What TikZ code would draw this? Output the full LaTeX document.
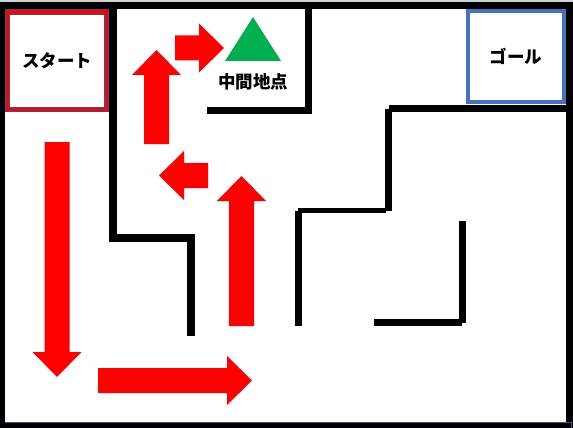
\documentclass[tikz,border=0pt]{standalone}
\usepackage{fontspec}
\newfontfamily\jpfont{Noto Sans CJK JP}
\usetikzlibrary{positioning}
\definecolor{goalblue}{HTML}{4472C4}
\definecolor{startedge}{HTML}{2F5597}
\definecolor{midgreen}{HTML}{00B050}

\begin{document}
\begin{tikzpicture}[x=1pt, y=-1pt,
        wall/.style={line width=7pt, line cap=butt},
        routearrow/.style={fill=red},
        boxlabel/.style={font=\jpfont\bfseries\fontsize{17.5pt}{20pt}\selectfont, inner sep=0pt}]
    \useasboundingbox (0, 0) rectangle (573, 428);
    \fill[white] (0, 0) rectangle (573, 428);
    \fill[gray!35] (0, 0) rectangle (573, 2);

    % outer frame
    \draw[wall] (1.5, 5.5) rectangle (569, 425.5);
    \draw[startedge, line width=1pt] (5, 422.5) -- (571.5, 422.5) -- (571.5, 428);

    % inner walls
    \draw[wall, line width=8pt] (113, 9) -- (113, 238) -- (191, 238) -- (191, 336);
    \draw[wall] (308.5, 9) -- (308.5, 110.5) -- (207, 110.5);
    \draw[wall] (389, 108) -- (569, 108);
    \draw[wall] (388.5, 108.5) -- (388.5, 211);
    \draw[wall, line width=5.5pt] (298, 210.5) -- (386, 210.5);
    \draw[wall] (298.5, 211) -- (298.5, 326);
    \draw[wall] (462, 221) -- (462, 323);
    \draw[wall] (374, 322.5) -- (462, 322.5);

    % start and goal
    \node[boxlabel, draw=startedge, line width=1pt, double=red, double distance=3.5pt,
        minimum width=99pt, minimum height=97.5pt] (start) at (57, 60.75) {スタート};
    \node[boxlabel, draw=goalblue, line width=4pt,
        minimum width=96pt, minimum height=91pt] (goal) at (516, 56.5) {ゴール};

    % midpoint
    \fill[midgreen] (253, 17) -- (281, 61) -- (225, 61) -- cycle;
    \node[boxlabel] (midpoint) at (253, 82) {中間地点};

    % route
    \foreach \x/\y/\a/\l in {57/142/-90/235, 98/380.5/0/154, 241.5/326/90/150,
            208/175.5/180/49, 156.5/144/90/94, 175/48/0/49} {
        \begin{scope}[shift={(\x, \y)}, rotate=\a]
            \fill[routearrow] (0, -12.5) -- (\l-25, -12.5) -- (\l-25, -24.5) -- (\l, 0)
                -- (\l-25, 24.5) -- (\l-25, 12.5) -- (0, 12.5) -- cycle;
        \end{scope}
    }
\end{tikzpicture}
\end{document}
